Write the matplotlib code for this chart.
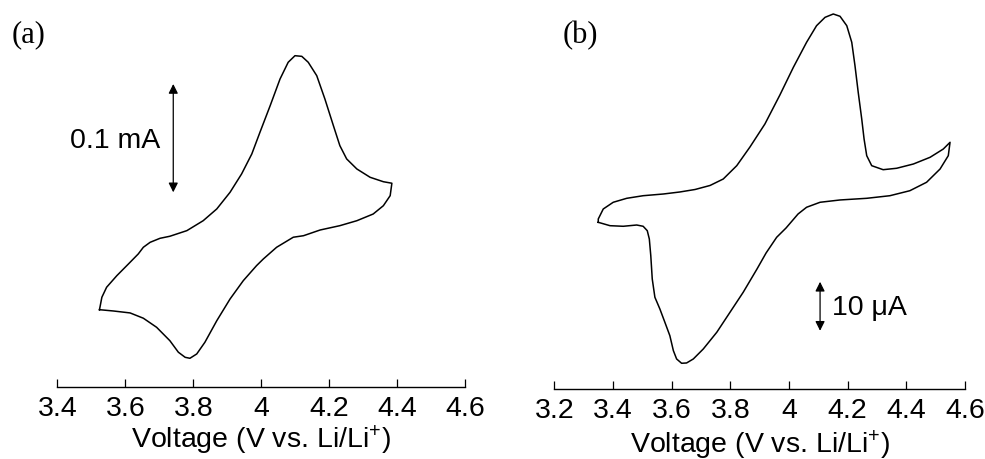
import matplotlib
matplotlib.use("Agg")
from matplotlib import pyplot as plt

plt.rcParams['font.family'] = ['Liberation Sans', 'DejaVu Sans']
plt.rcParams['mathtext.default'] = 'regular'

# (a) cyclic voltammogram, voltage in V, current in mA
volt_a_ox = [3.524, 3.531, 3.545, 3.575, 3.609, 3.638, 3.653, 3.673, 3.702, 3.731,
             3.781, 3.829, 3.869, 3.908, 3.942, 3.972, 3.996, 4.026, 4.055, 4.079,
             4.099, 4.119, 4.138, 4.163, 4.187, 4.212, 4.231, 4.251, 4.281, 4.320,
             4.359, 4.384]
curr_a_ox = [-0.0377, -0.0262, -0.0169, -0.0062, 0.0046, 0.0139, 0.0201, 0.0247, 0.0284, 0.0303,
             0.0355, 0.0447, 0.0556, 0.0710, 0.0880, 0.1065, 0.1266, 0.1512, 0.1759, 0.1914,
             0.1975, 0.1969, 0.1914, 0.1790, 0.1574, 0.1327, 0.1142, 0.1019, 0.0926, 0.0849,
             0.0808, 0.0794]
volt_a_red = [4.384, 4.379, 4.359, 4.329, 4.281, 4.231, 4.173, 4.124, 4.094, 4.045,
              4.006, 3.986, 3.947, 3.908, 3.869, 3.834, 3.810, 3.790, 3.776, 3.756,
              3.731, 3.692, 3.653, 3.614, 3.565, 3.524]
curr_a_red = [0.0794, 0.0679, 0.0586, 0.0509, 0.0447, 0.0401, 0.0361, 0.0308, 0.0294, 0.0201,
              0.0093, 0.0031, -0.0108, -0.0278, -0.0479, -0.0679, -0.0787, -0.0827, -0.0818, -0.0771,
              -0.0664, -0.0540, -0.0456, -0.0407, -0.0389, -0.0377]

# (b) cyclic voltammogram, voltage in V, current in uA
volt_b_ox = [3.350, 3.350, 3.367, 3.401, 3.447, 3.503, 3.572, 3.628, 3.680, 3.731,
             3.776, 3.822, 3.867, 3.918, 3.969, 4.015, 4.060, 4.094, 4.123, 4.151,
             4.174, 4.197, 4.214, 4.225, 4.236, 4.248, 4.256, 4.265, 4.282, 4.321,
             4.367, 4.424, 4.481, 4.526, 4.549]
curr_b_ox = [-4.76, -4.08, -2.04, -0.67, 0.14, 0.67, 1.02, 1.43, 1.94, 2.76,
             4.08, 6.80, 10.61, 15.31, 21.22, 26.88, 31.98, 35.37, 37.08, 37.76,
             37.29, 35.37, 31.98, 27.20, 21.78, 16.33, 12.24, 8.84, 6.80, 5.98,
             6.27, 7.14, 8.51, 10.20, 11.57]
volt_b_red = [4.549, 4.543, 4.515, 4.469, 4.412, 4.344, 4.265, 4.174, 4.106, 4.060,
              4.031, 3.990, 3.958, 3.922, 3.891, 3.844, 3.799, 3.754, 3.708, 3.674,
              3.651, 3.634, 3.617, 3.606, 3.594, 3.577, 3.560, 3.543, 3.534, 3.529,
              3.524, 3.517, 3.503, 3.481, 3.435, 3.390, 3.350]
curr_b_red = [11.57, 8.84, 6.12, 3.41, 1.69, 0.67, 0.14, -0.20, -0.67, -1.69,
              -3.06, -5.92, -7.82, -11.02, -14.29, -19.04, -23.12, -27.20, -30.61, -32.65,
              -33.47, -33.53, -32.65, -30.96, -27.90, -25.16, -22.45, -20.06, -16.33, -11.57,
              -8.16, -6.47, -5.57, -5.31, -5.57, -5.45, -4.76]

ticks_a = [3.4, 3.6, 3.8, 4.0, 4.2, 4.4, 4.6]
ticks_b = [3.2, 3.4, 3.6, 3.8, 4.0, 4.2, 4.4, 4.6]
tick_labels_a = ['3.4', '3.6', '3.8', '4', '4.2', '4.4', '4.6']
tick_labels_b = ['3.2', '3.4', '3.6', '3.8', '4', '4.2', '4.4', '4.6']

FS = 20.5

fig = plt.figure(figsize=(9.85, 4.6), dpi=100)
ax1 = fig.add_axes([0.0582, 0.1565, 0.4142, 0.8435])
ax2 = fig.add_axes([0.5627, 0.1522, 0.4170, 0.8478])


def style_axis(ax, ticks, labels, pad_label):
    for side in ['top', 'left', 'right']:
        ax.spines[side].set_visible(False)
    ax.spines['bottom'].set_linewidth(1.0)
    ax.set_yticks([])
    ax.set_xticks(ticks)
    ax.set_xticklabels(labels)
    ax.tick_params(axis='x', direction='in', length=6, width=0.9, pad=6, labelsize=FS)
    ax.set_xlabel('Voltage (V vs. Li/Li$^{+}$)', fontsize=FS, labelpad=pad_label)
    ax.patch.set_alpha(0)


ax1.plot(volt_a_ox + volt_a_red, curr_a_ox + curr_a_red, color='k', lw=1.1,
         solid_joinstyle='round')
ax1.set_xlim(3.4, 4.6)
ax1.set_ylim(-0.1093, 0.25)
style_axis(ax1, ticks_a, tick_labels_a, 1)
ax1.annotate('', xy=(3.741, 0.1713), xytext=(3.741, 0.0710),
             arrowprops=dict(arrowstyle='<|-|>', color='k', lw=0.9,
                             mutation_scale=14, shrinkA=0, shrinkB=0))
ax1.text(3.702, 0.1194, '0.1 mA', fontsize=FS, ha='right', va='center')

ax2.plot(volt_b_ox + volt_b_red, curr_b_ox + curr_b_red, color='k', lw=1.1,
         solid_joinstyle='round')
ax2.set_xlim(3.2, 4.6)
ax2.set_ylim(-38.78, 40.82)
style_axis(ax2, ticks_b, tick_labels_b, 3)
ax2.annotate('', xy=(4.106, -16.9), xytext=(4.106, -26.9),
             arrowprops=dict(arrowstyle='<|-|>', color='k', lw=0.9,
                             mutation_scale=14, shrinkA=0, shrinkB=0))
ax2.text(4.145, -22.0, '10 \u03bcA', fontsize=FS, ha='left', va='center')

fig.text(12 / 985, 1 - 42 / 460, '(a)', family='Liberation Serif', fontsize=22, va='baseline')
fig.text(563 / 985, 1 - 43 / 460, '(b)', family='Liberation Serif', fontsize=22, va='baseline')

fig.savefig('out.png', dpi=100)
